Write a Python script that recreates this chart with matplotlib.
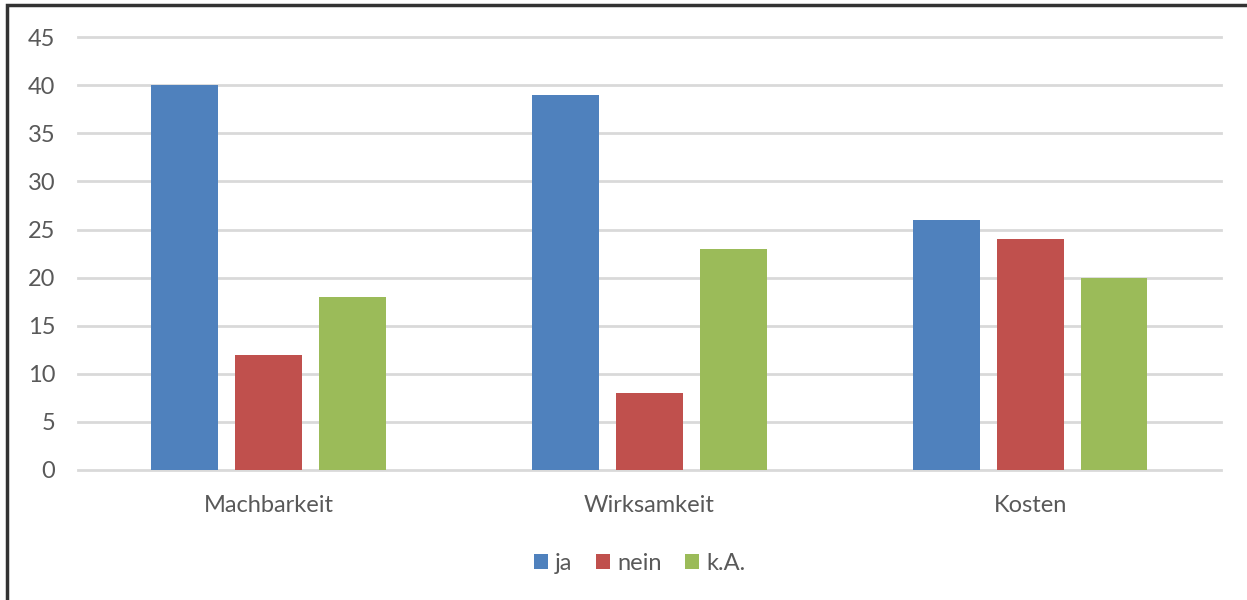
import matplotlib.pyplot as plt
import matplotlib.patches as mpatches
import numpy as np

kategorien = ['Machbarkeit', 'Wirksamkeit', 'Kosten']
ja = [40, 39, 26]
nein = [12, 8, 24]
ka = [18, 23, 20]
serien = ['ja', 'nein', 'k.A.']
farben = ['#4F81BD', '#C0504D', '#9BBB59']

plt.rcParams['font.family'] = ['Lato', 'DejaVu Sans']

fig = plt.figure(figsize=(12.47, 6), dpi=100)
ax = fig.add_axes([0.0626, 0.2167, 0.9164, 0.7213])

x = np.arange(len(kategorien))
breite = 0.175
abstand = 0.22
for i, (werte, name, farbe) in enumerate(zip([ja, nein, ka], serien, farben)):
    ax.bar(x + (i - 1) * abstand, werte, breite, color=farbe, label=name, zorder=3)

ax.set_xlim(-0.5, 2.5)
ax.set_ylim(0, 45)
ax.set_yticks(range(0, 46, 5))
ax.set_xticks(x)
ax.set_xticklabels(kategorien)
ax.yaxis.grid(True, color='#D9D9D9', linewidth=2, zorder=0)
for gl in ax.get_ygridlines():
    gl.set_clip_on(False)
ax.set_axisbelow(True)
for s in ax.spines.values():
    s.set_visible(False)
ax.tick_params(axis='both', length=0, labelsize=17, labelcolor='#595959')
ax.tick_params(axis='y', pad=16.5)
ax.tick_params(axis='x', pad=18)

leg = fig.legend(loc='center', bbox_to_anchor=(0.513, 0.061), ncol=3, frameon=False,
                 fontsize=17, handlelength=0.6, handleheight=0.6, handletextpad=0.3,
                 columnspacing=1.0, labelcolor='#595959')

# Rahmen links und oben
rahmen = mpatches.Rectangle((7 / 1247, -0.1), 1.2, 1.1 - 5 / 600, transform=fig.transFigure,
                            fill=False, edgecolor='#333333', linewidth=2.5, clip_on=False)
fig.patches.append(rahmen)

fig.savefig('out.png', dpi=100)
